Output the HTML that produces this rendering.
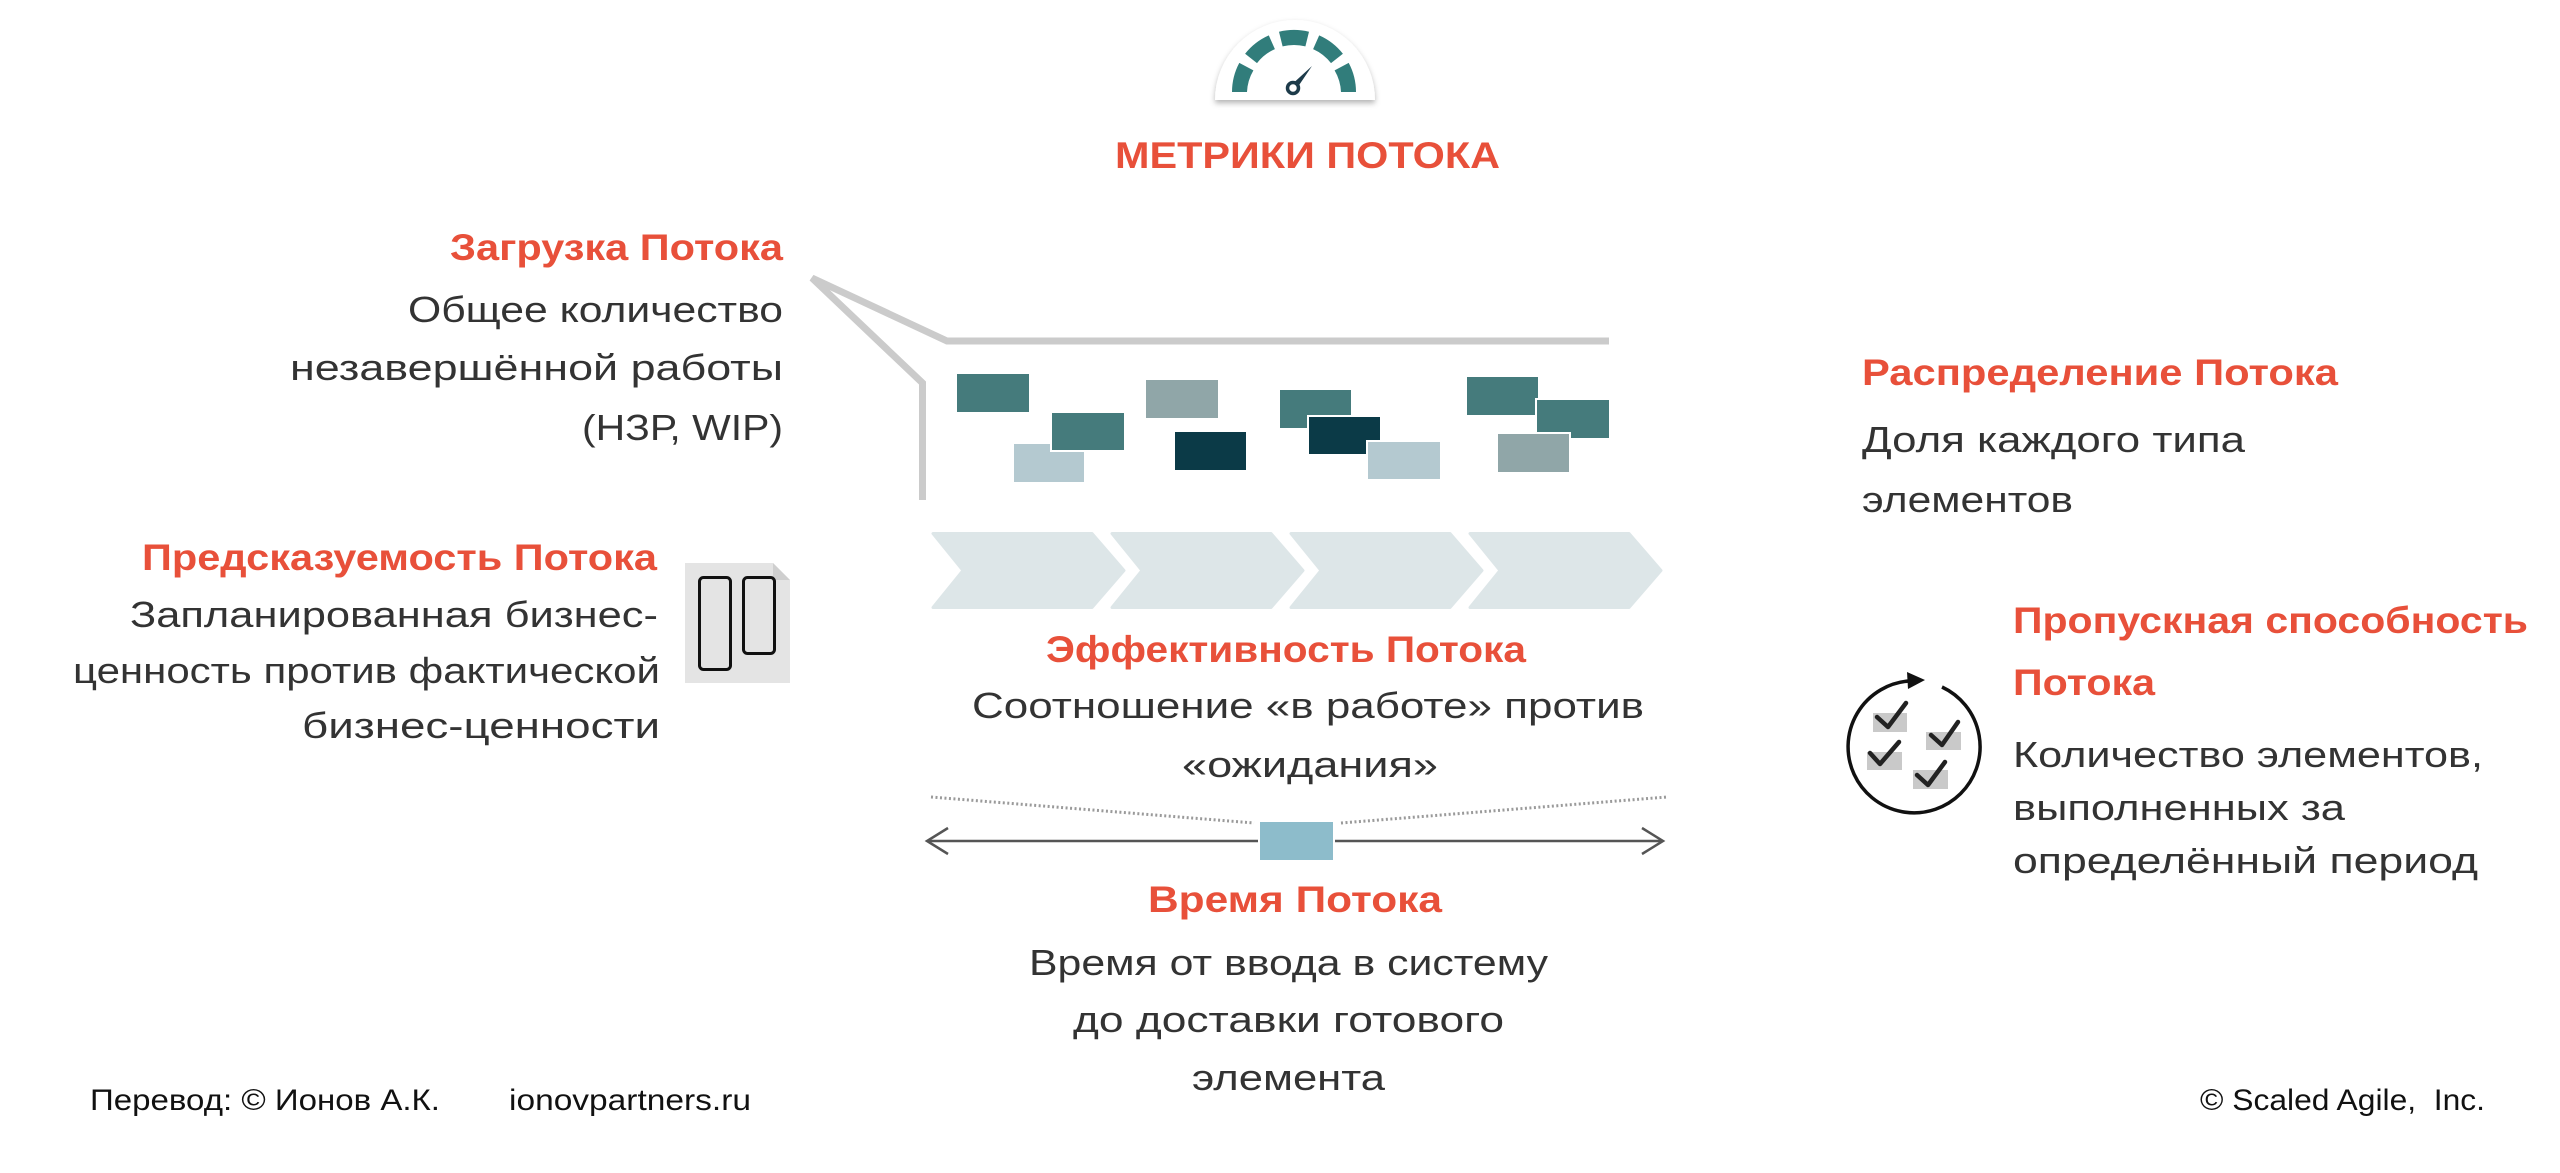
<!DOCTYPE html>
<html>
<head>
<meta charset="utf-8">
<style>
  html, body { margin: 0; padding: 0; background: #ffffff; }
  svg { display: block; }
  .h { font-family: "Liberation Sans", "DejaVu Sans", sans-serif; font-weight: bold; fill: #e8503a; font-size: 37px; }
  .b { font-family: "Liberation Sans", "DejaVu Sans", sans-serif; fill: #333333; font-size: 36px; }
  .f { font-family: "Liberation Sans", "DejaVu Sans", sans-serif; fill: #111111; font-size: 30px; }
</style>
</head>
<body>
<svg width="2560" height="1173" viewBox="0 0 2560 1173" xmlns="http://www.w3.org/2000/svg">
  <defs>
    <filter id="sh" x="-20%" y="-20%" width="140%" height="150%">
      <feDropShadow dx="0" dy="3" stdDeviation="3" flood-color="#000" flood-opacity="0.3"/>
    </filter>
  </defs>
  <rect x="0" y="0" width="2560" height="1173" fill="#ffffff"/>

  <!-- Gauge icon -->
  <path d="M1215 100 A80 80 0 0 1 1375 100 Z" fill="#ffffff" filter="url(#sh)"/>
  <g fill="#317d7b">
    <path d="M1356 92 A62 62 0 0 0 1348.7 62.9 L1334.6 70.4 A47 47 0 0 1 1341 92 Z"/>
    <path d="M1342.9 53.8 A62 62 0 0 0 1319.2 35.4 L1313.1 49.1 A47 47 0 0 1 1331 63.1 Z"/>
    <path d="M1309 31.8 A62 62 0 0 0 1279 31.8 L1282.6 46.4 A47 47 0 0 1 1305.4 46.4 Z"/>
    <path d="M1268.8 35.4 A62 62 0 0 0 1245.1 53.8 L1257 63.1 A47 47 0 0 1 1274.9 49.1 Z"/>
    <path d="M1239.3 62.9 A62 62 0 0 0 1232 92 L1247 92 A47 47 0 0 1 1253.4 70.4 Z"/>
  </g>
  <polygon points="1312,66 1295.6,90.3 1290.4,85.7" fill="#1d3b4a"/>
  <circle cx="1293" cy="88" r="5.5" fill="#ffffff" stroke="#1d3b4a" stroke-width="3.5"/>

  <text class="h" x="1115" y="168" font-size="43" textLength="385" lengthAdjust="spacingAndGlyphs">МЕТРИКИ ПОТОКА</text>

  <!-- Flow load container -->
  <polyline points="922.5,500 922.5,383 812,278 947,341 1609,341" fill="none" stroke="#cbcbcb" stroke-width="7" stroke-linejoin="miter"/>

  <!-- Work items -->
  <g stroke="#ffffff" stroke-width="2">
    <rect x="956" y="373" width="74" height="40" fill="#457b7c"/>
    <rect x="1013" y="443" width="72" height="40" fill="#b4c9d0"/>
    <rect x="1051" y="412" width="74" height="39" fill="#457b7c"/>
    <rect x="1145" y="379" width="74" height="40" fill="#90a6a8"/>
    <rect x="1174" y="431" width="73" height="40" fill="#0b3a47"/>
    <rect x="1279" y="389" width="73" height="40" fill="#457b7c"/>
    <rect x="1308" y="416" width="73" height="39" fill="#0b3a47"/>
    <rect x="1367" y="441" width="74" height="39" fill="#b4c9d0"/>
    <rect x="1466" y="376" width="73" height="40" fill="#457b7c"/>
    <rect x="1536" y="399" width="74" height="40" fill="#457b7c"/>
    <rect x="1497" y="433" width="73" height="40" fill="#90a6a8"/>
  </g>

  <!-- Chevrons -->
  <g fill="#dde6e8" stroke="#dde6e8" stroke-width="3" stroke-linejoin="round">
    <polygon points="933,533.5 1092,533.5 1124,570.5 1092,607.5 933,607.5 963,570.5"/>
    <polygon points="1112,533.5 1271,533.5 1303,570.5 1271,607.5 1112,607.5 1142,570.5"/>
    <polygon points="1291,533.5 1450,533.5 1482,570.5 1450,607.5 1291,607.5 1321,570.5"/>
    <polygon points="1470,533.5 1629,533.5 1661,570.5 1629,607.5 1470,607.5 1500,570.5"/>
  </g>

  <!-- Flow time graphic -->
  <line x1="931" y1="797" x2="1254" y2="823" stroke="#9a9a9a" stroke-width="3" stroke-dasharray="2,2.5"/>
  <line x1="1341" y1="823" x2="1667" y2="797" stroke="#9a9a9a" stroke-width="3" stroke-dasharray="2,2.5"/>
  <line x1="928" y1="841" x2="1662" y2="841" stroke="#555555" stroke-width="2.5"/>
  <polyline points="948,828 927,841 948,854" fill="none" stroke="#555555" stroke-width="2.5"/>
  <polyline points="1642,828 1663,841 1642,854" fill="none" stroke="#555555" stroke-width="2.5"/>
  <rect x="1258" y="820" width="77" height="42" fill="#ffffff"/>
  <rect x="1260" y="822" width="73" height="38" fill="#8dbccb"/>

  <!-- Predictability icon -->
  <polygon points="685,563 773,563 790,580 790,683 685,683" fill="#e4e4e4"/>
  <polygon points="773,563 790,580 773,580" fill="#cfcfcf"/>
  <rect x="699.5" y="577.5" width="31" height="92" rx="4" fill="none" stroke="#111" stroke-width="3"/>
  <rect x="743.5" y="577.5" width="31" height="76" rx="4" fill="none" stroke="#111" stroke-width="3"/>

  <!-- Throughput icon -->
  <path d="M1942 687 A66 66 0 1 1 1909 681" fill="none" stroke="#111" stroke-width="3.5"/>
  <polygon points="1925,680 1907,672 1908,689" fill="#111"/>
  <g fill="#c9c9c9">
    <rect x="1873" y="713" width="34" height="19"/>
    <rect x="1867" y="752" width="35" height="18"/>
    <rect x="1926" y="732" width="35" height="18"/>
    <rect x="1913" y="770" width="35" height="19"/>
  </g>
  <g fill="none" stroke="#222" stroke-width="4.5" stroke-linecap="round" stroke-linejoin="round">
    <polyline points="1877,717 1888,727 1906,703"/>
    <polyline points="1870,753 1880,764 1899,742"/>
    <polyline points="1931,735 1942,745 1958,722"/>
    <polyline points="1917,775 1928,785 1945,762"/>
  </g>

  <!-- Left texts -->
  <text class="h" x="450" y="260" textLength="333" lengthAdjust="spacingAndGlyphs">Загрузка Потока</text>
  <text class="b" x="408" y="322" textLength="375" lengthAdjust="spacingAndGlyphs">Общее количество</text>
  <text class="b" x="290" y="380" textLength="493" lengthAdjust="spacingAndGlyphs">незавершённой работы</text>
  <text class="b" x="582" y="440" textLength="201" lengthAdjust="spacingAndGlyphs">(НЗР, WIP)</text>

  <text class="h" x="142" y="570" textLength="515" lengthAdjust="spacingAndGlyphs">Предсказуемость Потока</text>
  <text class="b" x="130" y="627" textLength="528" lengthAdjust="spacingAndGlyphs">Запланированная бизнес-</text>
  <text class="b" x="73" y="683" textLength="587" lengthAdjust="spacingAndGlyphs">ценность против фактической</text>
  <text class="b" x="302" y="738" textLength="358" lengthAdjust="spacingAndGlyphs">бизнес-ценности</text>

  <!-- Right texts -->
  <text class="h" x="1862" y="385" textLength="476" lengthAdjust="spacingAndGlyphs">Распределение Потока</text>
  <text class="b" x="1862" y="452" textLength="383" lengthAdjust="spacingAndGlyphs">Доля каждого типа</text>
  <text class="b" x="1862" y="512" textLength="211" lengthAdjust="spacingAndGlyphs">элементов</text>

  <text class="h" x="2013" y="633" textLength="515" lengthAdjust="spacingAndGlyphs">Пропускная способность</text>
  <text class="h" x="2013" y="695" textLength="142" lengthAdjust="spacingAndGlyphs">Потока</text>
  <text class="b" x="2013" y="767" textLength="470" lengthAdjust="spacingAndGlyphs">Количество элементов,</text>
  <text class="b" x="2013" y="820" textLength="332" lengthAdjust="spacingAndGlyphs">выполненных за</text>
  <text class="b" x="2013" y="873" textLength="465" lengthAdjust="spacingAndGlyphs">определённый период</text>

  <!-- Center texts -->
  <text class="h" x="1046" y="662" textLength="480" lengthAdjust="spacingAndGlyphs">Эффективность Потока</text>
  <text class="b" x="972" y="718" textLength="672" lengthAdjust="spacingAndGlyphs">Соотношение «в работе» против</text>
  <text class="b" x="1182" y="777" textLength="256" lengthAdjust="spacingAndGlyphs">«ожидания»</text>

  <text class="h" x="1148" y="912" textLength="294" lengthAdjust="spacingAndGlyphs">Время Потока</text>
  <text class="b" x="1029" y="975" textLength="519" lengthAdjust="spacingAndGlyphs">Время от ввода в систему</text>
  <text class="b" x="1073" y="1032" textLength="431" lengthAdjust="spacingAndGlyphs">до доставки готового</text>
  <text class="b" x="1192" y="1090" textLength="193" lengthAdjust="spacingAndGlyphs">элемента</text>

  <!-- Footer -->
  <text class="f" x="90" y="1110" textLength="350" lengthAdjust="spacingAndGlyphs">Перевод: © Ионов А.К.</text>
  <text class="f" x="509" y="1110" textLength="242" lengthAdjust="spacingAndGlyphs">ionovpartners.ru</text>
  <text class="f" x="2200" y="1110" textLength="285" lengthAdjust="spacingAndGlyphs" xml:space="preserve">© Scaled Agile,  Inc.</text>
</svg>
</body>
</html>
